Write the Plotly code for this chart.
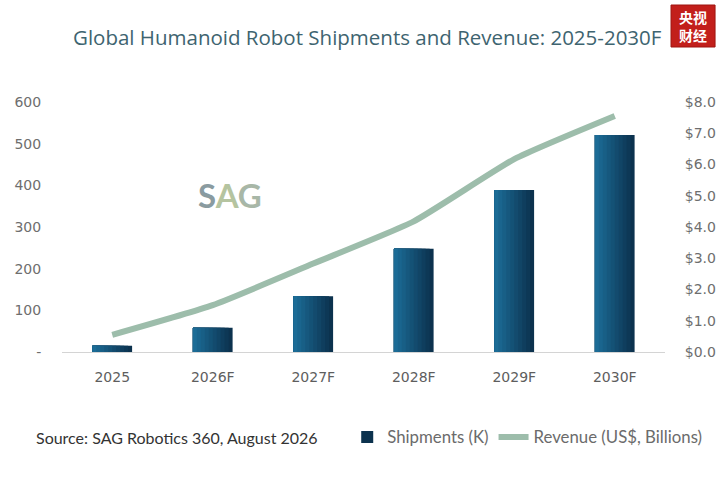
import plotly.graph_objects as go

# data
years = ['2025', '2026F', '2027F', '2028F', '2029F', '2030F']
shipments_k = [15, 58, 134, 248, 389, 521]
revenue_bn = [0.55, 1.5, 2.83, 4.18, 6.17, 7.55]

left_ticks = [0, 100, 200, 300, 400, 500, 600]
left_labels = ['-', '100', '200', '300', '400', '500', '600']
right_ticks = [0, 1, 2, 3, 4, 5, 6, 7, 8]
right_labels = ['$%.1f' % v for v in right_ticks]

fig = go.Figure()

# bars: overlay a few left-aligned slices to fake the dark-right / light-left gradient
bar_w = 0.395
steps = 10
dark = (12, 50, 78)
light = (28, 108, 150)
for k in range(steps):
    t = k / (steps - 1)
    c = tuple(int(dark[i] + (light[i] - dark[i]) * t) for i in range(3))
    w = bar_w * (steps - k) / steps
    fig.add_trace(go.Bar(
        x=years,
        y=shipments_k,
        name='Shipments (K)',
        marker=dict(color='rgb(%d,%d,%d)' % c, line=dict(width=0)),
        width=w,
        offset=-bar_w / 2,
        showlegend=(k == 0),
        hoverinfo='skip' if k else None,
    ))

fig.add_trace(go.Scatter(
    x=years,
    y=revenue_bn,
    name='Revenue (US$, Billions)',
    mode='lines',
    line=dict(color='#9dbdab', width=6, shape='spline', smoothing=0.5),
    yaxis='y2',
))

fig.update_layout(
    width=720,
    height=477,
    margin=dict(l=62, r=55, t=102, b=125, autoexpand=False),
    paper_bgcolor='white',
    plot_bgcolor='white',
    barmode='overlay',
    font=dict(family='DejaVu Sans, sans-serif', size=14, color='#6e6e6e'),
    title=dict(
        text='Global Humanoid Robot Shipments and Revenue: 2025-2030F',
        x=0.51, y=0.92, xanchor='center', yanchor='middle',
        font=dict(family='Open Sans, sans-serif', size=20.5, color='#3e6470'),
    ),
    xaxis=dict(
        showgrid=False,
        showline=True, linecolor='#d4d4d4', linewidth=1,
        ticks='outside', ticklen=12, tickcolor='rgba(0,0,0,0)',
        tickfont=dict(size=14, color='#5e5e5e'),
    ),
    yaxis=dict(
        range=[0, 600],
        tickvals=left_ticks, ticktext=left_labels,
        showgrid=False, zeroline=False, showline=False,
        ticks='outside', ticklen=17, tickcolor='rgba(0,0,0,0)',
        tickfont=dict(size=14, color='#6e6e6e'),
    ),
    yaxis2=dict(
        range=[0, 8],
        overlaying='y', side='right',
        tickvals=right_ticks, ticktext=right_labels,
        showgrid=False, zeroline=False, showline=False,
        ticks='outside', ticklen=16, tickcolor='rgba(0,0,0,0)',
        tickfont=dict(size=14, color='#6e6e6e'),
    ),
    legend=dict(
        orientation='h',
        x=0.473, y=-0.34, xanchor='left', yanchor='middle',
        font=dict(family='Lato, sans-serif', size=16.8, color='#6b6b6b'),
        itemwidth=30,
        tracegroupgap=0,
        bgcolor='rgba(0,0,0,0)',
    ),
)

# source note
fig.add_annotation(
    text='Source: SAG Robotics 360, August 2026',
    xref='paper', yref='paper', x=-0.047, y=-0.34,
    xanchor='left', yanchor='middle', showarrow=False,
    font=dict(family='Lato, sans-serif', size=16, color='#333333'),
)

# SAG watermark
fig.add_annotation(
    text="<b><span style='color:#8a9ba0'>S</span><span style='color:#b5c4a0'>A</span>"
         "<span style='color:#a8b7a7'>G</span></b>",
    xref='paper', yref='paper', x=0.279, y=0.627,
    xanchor='center', yanchor='middle', showarrow=False,
    font=dict(family='Lato, sans-serif', size=33),
)

# red logo box top right
fig.add_shape(
    type='rect', xref='paper', yref='paper',
    x0=1.01, x1=1.083, y0=1.22, y1=1.388,
    fillcolor='#c21f1b', line=dict(color='#9e1410', width=1),
)
fig.add_annotation(
    text='<b>央视<br>财经</b>',
    xref='paper', yref='paper', x=1.0465, y=1.304,
    xanchor='center', yanchor='middle', showarrow=False,
    font=dict(family='Noto Sans CJK SC', size=14, color='white'),
)

# page body has an 8px default margin, drop it so the figure fills the window
fig.write_html('out.html', config={'displayModeBar': False},
               post_script="document.body.style.margin='0';")
